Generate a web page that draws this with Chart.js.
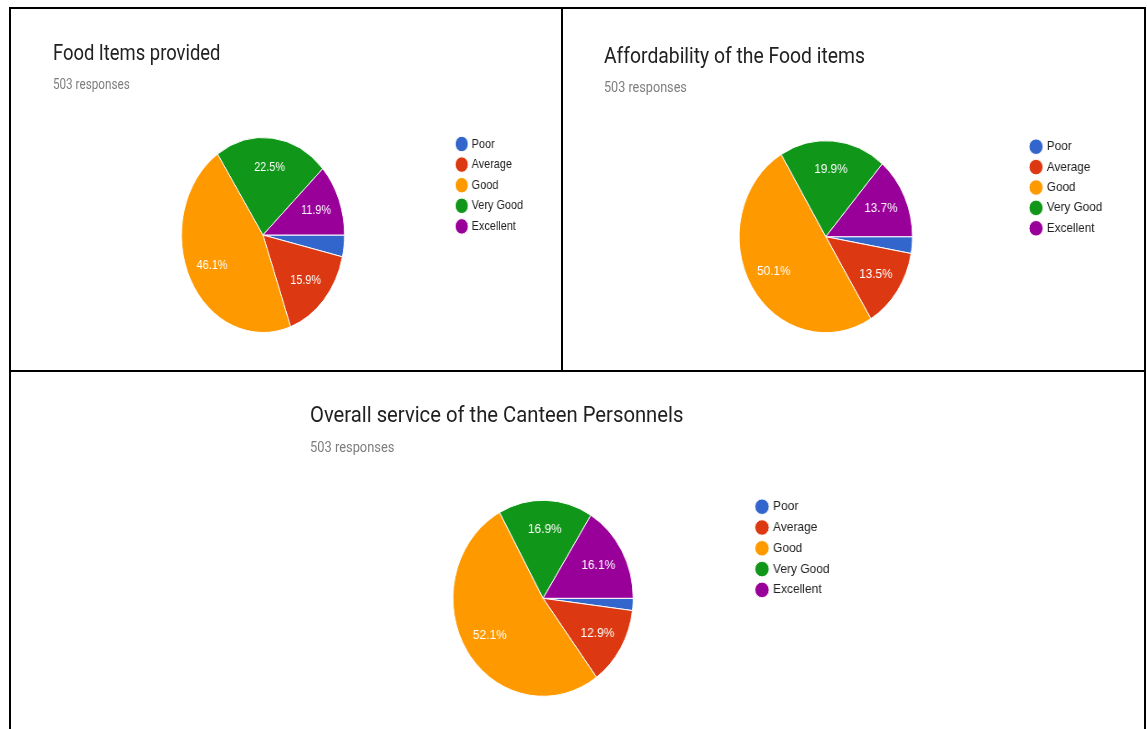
<!DOCTYPE html>
<html>
<head>
<meta charset="utf-8">
<script src="https://cdn.jsdelivr.net/npm/chart.js@4.4.1/dist/chart.umd.min.js"></script>
<style>
  html, body { margin: 0; background: #fff; }
  body { position: relative; width: 1147px; height: 729px; overflow: hidden; }
  .rule { position: absolute; background: #000; z-index: 2; }
  .panel { position: absolute; overflow: hidden; }
  .inner { position: absolute; left: 0; top: 0; transform-origin: 0 0; }
  .title { position: absolute; font-family: Roboto, sans-serif; line-height: 22px; color: #212121; white-space: nowrap; }
  .sub { position: absolute; font: 14px Roboto, sans-serif; line-height: 14px; color: #7d7d7d; white-space: nowrap; }
  canvas { position: absolute; left: 0; top: 0; }
</style>
</head>
<body>
<div class="rule" style="left:9px;top:7px;width:1137px;height:2px"></div>
<div class="rule" style="left:9px;top:7px;width:2px;height:722px"></div>
<div class="rule" style="left:1144px;top:7px;width:2px;height:722px"></div>
<div class="rule" style="left:561px;top:7px;width:2px;height:364px"></div>
<div class="rule" style="left:9px;top:370px;width:1137px;height:2px"></div>

<script>
const categories = ['Poor', 'Average', 'Good', 'Very Good', 'Excellent'];
const foodItems = [3.6, 15.9, 46.1, 22.5, 11.9];
const affordability = [2.8, 13.5, 50.1, 19.9, 13.7];
const overallService = [2.0, 12.9, 52.1, 16.9, 16.1];
const titles = ['Food Items provided', 'Affordability of the Food items', 'Overall service of the Canteen Personnels'];
const responses = '503 responses';

const palette = ['#3366cc', '#dc3912', '#ff9900', '#109618', '#990099'];
const legendFont = { size: 13, family: '"Liberation Sans", Arial, sans-serif' };
const boxSize = 11;

// box = [left, top, width, height] on the page; everything inside is laid out
// unsquashed and then narrowed with scaleX. legendLeft is in unsquashed px.
const panels = [
  { values: foodItems, title: titles[0], box: [11, 9, 550, 361], sx: 0.836, titleSize: 22,
    titleAt: [50.2, 32.5], subAt: [50.2, 68], radius: 97.5, gap: 7.6, legendLeft: 526,
    pad: { left: 76.8, top: 120.9, bottom: 29.9 } },
  { values: affordability, title: titles[1], box: [563, 9, 581, 361], sx: 0.903, titleSize: 21.4,
    titleAt: [45.4, 36.2], subAt: [45.4, 71], radius: 96, gap: 7.4, legendLeft: 510.9,
    pad: { left: 71.1, top: 123.8, bottom: 29.4 } },
  { values: overallService, title: titles[2], box: [11, 372, 1133, 357], sx: 0.92, titleSize: 22,
    titleAt: [325, 31.8], subAt: [325, 67.7], radius: 98, gap: 7.8, legendLeft: 803,
    pad: { left: 353.6, top: 120.4, bottom: 24.8 } }
];

// width the legend box will take: padding + point + half font gap + longest text + 10
const measure = document.createElement('canvas').getContext('2d');
measure.font = `${legendFont.size}px ${legendFont.family}`;
const longest = Math.max(...categories.map(c => measure.measureText(c).width));
const legendWidth = gap => gap + boxSize + legendFont.size / 2 + longest + 10;

// percentage text inside the bigger slices
const sliceLabels = {
  id: 'sliceLabels',
  afterDatasetsDraw(chart) {
    const ctx = chart.ctx;
    const values = chart.data.datasets[0].data;
    const total = values.reduce((a, b) => a + b, 0);
    ctx.save();
    ctx.font = '13px "Liberation Sans", Arial, sans-serif';
    ctx.fillStyle = '#fff';
    ctx.textAlign = 'center';
    ctx.textBaseline = 'middle';
    chart.getDatasetMeta(0).data.forEach((arc, i) => {
      const share = values[i] / total * 100;
      if (share < 5) return;
      const p = arc.getProps(['x', 'y', 'startAngle', 'endAngle', 'outerRadius'], true);
      const mid = (p.startAngle + p.endAngle) / 2;
      const r = p.outerRadius * 0.7;
      ctx.fillText(share.toFixed(1) + '%', p.x + Math.cos(mid) * r, p.y + Math.sin(mid) * r);
    });
    ctx.restore();
  }
};

panels.forEach(cfg => {
  const [left, top, width, height] = cfg.box;
  const w = Math.round(width / cfg.sx);

  const panel = document.createElement('div');
  panel.className = 'panel';
  panel.style.cssText = `left:${left}px;top:${top}px;width:${width}px;height:${height}px`;
  const inner = document.createElement('div');
  inner.className = 'inner';
  inner.style.cssText = `width:${w}px;height:${height}px;transform:scaleX(${cfg.sx})`;

  const title = document.createElement('div');
  title.className = 'title';
  title.style.fontSize = cfg.titleSize + 'px';
  title.style.left = cfg.titleAt[0] + 'px';
  title.style.top = cfg.titleAt[1] + 'px';
  title.textContent = cfg.title;

  const sub = document.createElement('div');
  sub.className = 'sub';
  sub.style.left = cfg.subAt[0] + 'px';
  sub.style.top = cfg.subAt[1] + 'px';
  sub.textContent = responses;

  const canvas = document.createElement('canvas');
  canvas.width = w;
  canvas.height = height;

  inner.append(title, sub, canvas);
  panel.appendChild(inner);
  document.body.appendChild(panel);

  const padding = Object.assign({}, cfg.pad, {
    right: w - cfg.legendLeft - legendWidth(cfg.gap)
  });

  new Chart(canvas, {
    type: 'pie',
    data: {
      labels: categories,
      datasets: [{
        data: cfg.values,
        backgroundColor: palette,
        borderColor: '#fff',
        borderWidth: 1
      }]
    },
    options: {
      responsive: false,
      animation: false,
      events: [],
      rotation: 90,
      radius: cfg.radius,
      layout: { padding },
      plugins: {
        tooltip: { enabled: false },
        legend: {
          position: 'right',
          align: 'start',
          labels: {
            usePointStyle: true,
            pointStyle: 'circle',
            boxWidth: boxSize,
            boxHeight: boxSize,
            padding: cfg.gap,
            color: '#222',
            font: legendFont
          }
        }
      }
    },
    plugins: [sliceLabels]
  });
});
</script>
</body>
</html>
